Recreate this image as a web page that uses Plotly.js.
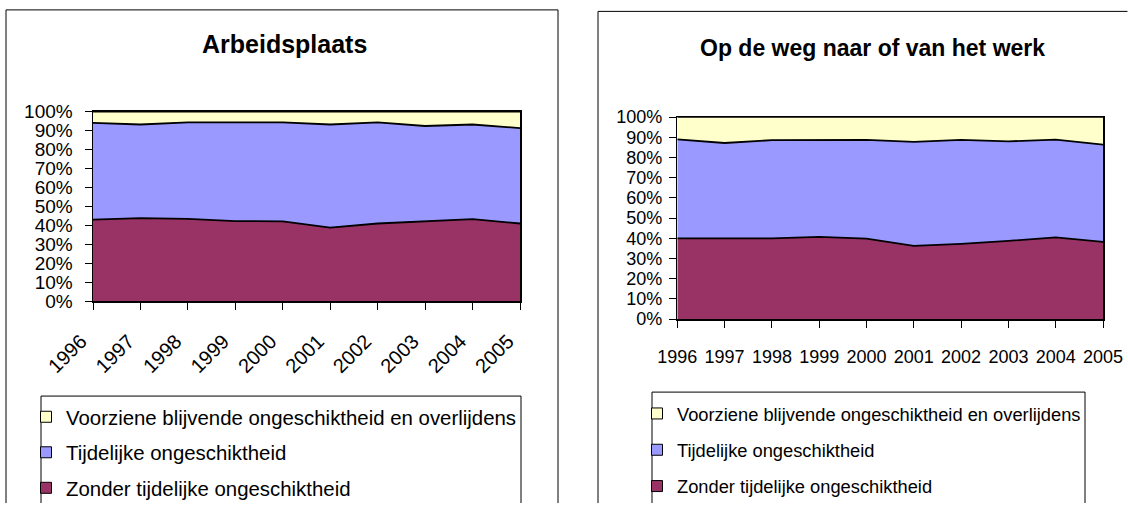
<!DOCTYPE html>
<html>
<head>
<meta charset="utf-8">
<script src="https://cdn.plot.ly/plotly-3.0.1.min.js"></script>
<style>
html,body{margin:0;padding:0;background:#fff;overflow:hidden;width:1128px;height:508px;}
#chart{position:absolute;left:0;top:0;width:1128px;height:508px;overflow:hidden;}
</style>
</head>
<body>
<div id="chart"></div>
<script>
const years = [1996, 1997, 1998, 1999, 2000, 2001, 2002, 2003, 2004, 2005];
const seriesNames = [
  "Zonder tijdelijke ongeschiktheid",
  "Tijdelijke ongeschiktheid",
  "Voorziene blijvende ongeschiktheid en overlijdens"
];
const seriesColors = ["#993366", "#9999FF", "#FFFFCC"];
const chartTitles = ["Arbeidsplaats", "Op de weg naar of van het werk"];

// Arbeidsplaats (percent shares)
const arbZonder = [43.1, 43.8, 43.5, 42.3, 42.1, 38.8, 41.0, 42.3, 43.3, 41.0];
const arbTijdelijk = [51.0, 49.4, 50.8, 52.0, 52.2, 54.4, 53.3, 50.1, 49.9, 50.3];
const arbVoorzien = [5.9, 6.8, 5.7, 5.7, 5.7, 6.8, 5.7, 7.6, 6.8, 8.7];

// Op de weg naar of van het werk (percent shares)
const wegZonder = [40.0, 40.0, 40.0, 40.7, 39.9, 36.3, 37.3, 38.7, 40.5, 38.2];
const wegTijdelijk = [49.0, 47.2, 48.6, 48.0, 48.8, 51.5, 51.4, 49.3, 48.4, 48.2];
const wegVoorzien = [11.0, 12.8, 11.4, 11.3, 11.3, 12.2, 11.3, 12.0, 11.1, 13.6];

const W = 1128, H = 508;
const px = v => v / W;
const py = v => 1 - v / H;

const font = "Arial, 'Liberation Sans', sans-serif";

function areaTraces(vals, xa, ya, grp) {
  return vals.map((v, i) => ({
    type: "scatter", mode: "lines", x: years, y: v,
    stackgroup: grp, xaxis: xa, yaxis: ya,
    line: {color: "#000000", width: 1.8},
    fillcolor: seriesColors[i],
    showlegend: false, hoverinfo: "skip"
  }));
}
function legendTraces(xa, ya, leg) {
  const out = [];
  for (let i = 2; i >= 0; i--) {
    out.push({
      type: "scatter", mode: "markers", x: [null], y: [null],
      xaxis: xa, yaxis: ya, legend: leg, legendgroup: leg + i,
      name: seriesNames[i],
      marker: {symbol: "square", size: 11, color: seriesColors[i], line: {color: "#000", width: 1}},
      showlegend: true, hoverinfo: "skip"
    });
  }
  return out;
}

const data = [].concat(
  areaTraces([arbZonder, arbTijdelijk, arbVoorzien], "x", "y", "a"),
  areaTraces([wegZonder, wegTijdelijk, wegVoorzien], "x2", "y2", "b"),
  legendTraces("x", "y", "legend"),
  legendTraces("x2", "y2", "legend2")
);

function xAxis(domain, anchor, size, angle, standoff, shift) {
  return {
    domain: domain, anchor: anchor, range: [1996, 2005], tickvals: years,
    ticks: "outside", ticklen: 7, tickcolor: "#000", tickwidth: 1,
    showline: true, linecolor: "#000", linewidth: 1.5, mirror: true,
    showgrid: false, zeroline: false, tickangle: angle,
    ticklabelstandoff: standoff, ticklabelshift: shift,
    tickfont: {family: font, size: size, color: "#000"}, fixedrange: true
  };
}
function yAxis(domain, anchor, size, standoff) {
  return {
    domain: domain, anchor: anchor, range: [0, 100], dtick: 10, ticksuffix: "%",
    ticks: "outside", ticklen: 7, tickcolor: "#000", tickwidth: 1,
    showline: true, linecolor: "#000", linewidth: 1.5, mirror: true,
    showgrid: false, zeroline: false, ticklabelstandoff: standoff,
    tickfont: {family: font, size: size, color: "#000"}, fixedrange: true
  };
}

function frameLines(x0, x1, yTop, withRight) {
  const l = {color: "#000", width: 1};
  const s = [
    {type: "line", xref: "paper", yref: "paper", x0: x0, x1: x0, y0: 0, y1: yTop, line: l},
    {type: "line", xref: "paper", yref: "paper", x0: x0, x1: x1, y0: yTop, y1: yTop, line: l}
  ];
  if (withRight) s.push({type: "line", xref: "paper", yref: "paper", x0: x1, x1: x1, y0: 0, y1: yTop, line: l});
  return s;
}

const layout = {
  width: W, height: H,
  margin: {l: 0, r: 0, t: 0, b: 0},
  paper_bgcolor: "#fff", plot_bgcolor: "#fff",
  showlegend: true,
  xaxis: xAxis([px(93), px(520)], "y", 20, -45, 12, -12),
  yaxis: yAxis([py(304.3), py(112.7)], "x", 19, 8),
  xaxis2: xAxis([px(677.3), px(1103)], "y2", 18, 0, 14, 0),
  yaxis2: yAxis([py(322.3), py(118.3)], "x2", 18, 3),
  legend: {
    x: px(26), y: py(401), xanchor: "left", yanchor: "top",
    bgcolor: "rgba(0,0,0,0)", borderwidth: 0,
    traceorder: "grouped", tracegroupgap: 6,
    font: {family: font, size: 20.4, color: "#000"}
  },
  legend2: {
    x: px(637), y: py(399), xanchor: "left", yanchor: "top",
    bgcolor: "rgba(0,0,0,0)", borderwidth: 0,
    traceorder: "grouped", tracegroupgap: 9.5,
    font: {family: font, size: 18.3, color: "#000"}
  },
  shapes: [].concat(
    frameLines(px(6), px(558), py(10), true),
    frameLines(px(598), px(1127.5), py(11.5), false),
    frameLines(px(41), px(521), py(400), true),
    frameLines(px(652), px(1085), py(396), true)
  ),
  annotations: [
    {text: "<b>" + chartTitles[0] + "</b>", xref: "paper", yref: "paper", x: px(284), y: py(44),
     xanchor: "center", yanchor: "middle", showarrow: false,
     font: {family: font, size: 25, color: "#000"}},
    {text: "<b>" + chartTitles[1] + "</b>", xref: "paper", yref: "paper", x: px(872), y: py(48),
     xanchor: "center", yanchor: "middle", showarrow: false,
     font: {family: font, size: 23, color: "#000"}}
  ]
};

Plotly.newPlot("chart", data, layout, {staticPlot: true, displayModeBar: false});
</script>
</body>
</html>
